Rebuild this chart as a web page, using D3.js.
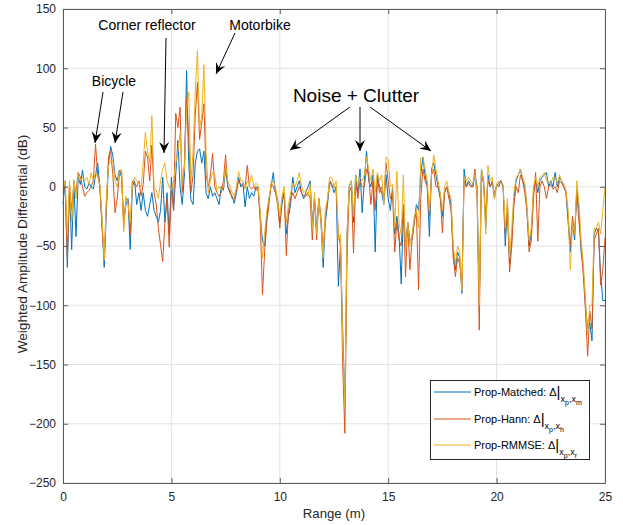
<!DOCTYPE html>
<html>
<head>
<meta charset="utf-8">
<script src="https://cdn.jsdelivr.net/npm/d3@7"></script>
<style>
  body { margin: 0; background: #fff; }
  text { font-family: "Liberation Sans", Arial, sans-serif; }
</style>
</head>
<body>
<svg id="chart" width="623" height="525"></svg>
<script>
'use strict';

// range samples, 0.1 m apart (0 .. 25 m)
var rangeStep = 0.1;

// Prop-Matched (blue)
var propMatched = [
  -15, 5, -68, 0, -53, 5, -42, 8, 2, 14,
  0, -2, 3, 0, -2, 10, 20, 0, -30, -68,
  -20, 20, 34, 26, 10, 5, 14, 8, -30, -15,
  -10, -53, 0, 5, -15, -5, -20, -5, -20, -25,
  -15, -5, -20, -25, -30, -20, 8, -30, -5, -40,
  8, -20, 10, 39, 0, -15, 10, 98, 20, -11,
  -15, 20, 30, 32, 20, 30, -5, -10, 0, -8,
  -5, -10, -15, 0, -3, 15, 0, -5, -8, -14,
  -5, 8, 0, 3, -17, 0, -10, -5, -8, 0,
  -2, -25, -45, -50, -25, -10, 0, 12, -5, -10,
  -31, -15, -5, -40, -25, -15, 8, -5, 0, 5,
  -5, -10, -5, 0, 5, -30, -10, -35, -10, -30,
  -68, -30, -15, 5, 2, -5, 0, -84, -50, -120,
  -186, -40, 0, 5, -30, 10, -5, 15, -22, 5,
  30, 5, 0, 10, -55, 10, 0, -5, -15, 10,
  -10, -20, 0, -40, -25, -40, -82, -20, -50, -30,
  -45, -45, -30, -15, -20, 10, 25, 10, 0, -42,
  15, 20, 10, 0, -10, -25, -5, 0, -5, -15,
  -55, -70, -55, -60, -90, 15, 0, 5, 2, 0,
  10, 0, -100, 15, 5, -35, 10, 0, 5, -10,
  2, 0, 5, 0, -50, -15, -65, -45, -10, 5,
  10, 15, 5, 0, -20, -50, -40, -5, 5, -5,
  5, 8, 10, 12, 0, 5, 0, 12, 0, 8,
  5, 0, -5, -30, -55, -30, -45, 0, -20, -55,
  -70, -100, -120, -115, -130, -40, -35, -38, -75, -96,
  -96
];

// Prop-Hann (red)
var propHann = [
  -5, 0, -60, 2, -20, 3, -5, 12, 8, 0,
  -8, -5, -3, 0, 5, 36, 10, 0, -35, -62,
  -15, 25, 30, 10, -22, -10, 10, 14, -35, -10,
  -12, -40, 5, 3, 0, 5, -8, 2, 30, 25,
  5, 35, -5, -15, -35, -49, -63, -30, -10, -51,
  0, -20, 62, 50, 67, -5, 20, 75, 40, -5,
  10, 60, 88, 40, 54, 70, 10, 0, 10, 28,
  0, -5, -8, -5, 5, 27, 0, -3, -10, -10,
  -3, 5, 2, 0, 0, 18, 0, -2, 0, -3,
  0, -30, -91, -55, -30, -15, 3, 0, -5, -15,
  -35, -10, -5, -58, -20, -10, -5, -10, -5, 0,
  -5, -8, -8, -5, -10, -45, -10, -45, -10, -25,
  -55, -25, -12, 5, 0, 0, -2, -40, -50, -150,
  -208, -60, -5, 0, -56, 5, -10, 5, 0, 0,
  15, 10, -15, 5, -20, 8, -5, 0, -10, 20,
  5, -10, -5, -55, -30, -45, -50, -15, -76, -30,
  -70, -45, -30, -20, -87, -10, 15, 5, 0, -25,
  10, 15, 0, 0, -5, -39, -5, 0, -10, -20,
  -60, -76, -60, -65, -85, 5, 0, 3, 0, 0,
  15, -10, -121, 10, 3, -25, 5, 0, 3, -5,
  0, 3, 5, 0, -40, -20, -72, -50, -15, 0,
  -5, 10, 5, -5, -20, -55, -45, -10, 12, -46,
  0, 5, 0, -10, 0, 2, -2, 0, -5, 5,
  3, 0, -5, -25, -50, -25, -40, -5, -30, -50,
  -75, -105, -143, -105, -120, -45, -40, -35, -83, -70,
  -43
];

// Prop-RMMSE (yellow)
var propRmmse = [
  -3, 5, -40, 5, -30, 6, -10, 10, 5, 8,
  5, 8, 2, 12, 5, 12, 8, 2, -25, -62,
  -10, 18, 22, 22, 5, 0, 12, 15, -38, -8,
  -15, -30, 2, 8, 5, 3, 0, 20, 46, 30,
  20, 60, 0, -3, -10, 5, 15, 20, 5, 0,
  -3, 5, 20, 30, 45, 5, 15, 65, 80, 5,
  30, 80, 115, 50, 60, 103, 30, -5, 5, 12,
  10, -3, 0, -3, 0, 18, 5, 0, -5, -8,
  0, 13, 5, 5, -2, 5, 2, 10, 0, 3,
  0, -20, -60, -40, -20, -10, 2, 5, 0, -12,
  -25, -8, 0, -30, -15, -5, 3, 0, 5, 12,
  0, -5, -3, -8, 2, -35, -5, -40, -10, -30,
  -60, -20, -10, 8, 8, 0, 5, -45, -40, -130,
  -186, -40, 0, 5, -25, 10, 0, 8, 5, 10,
  25, 15, 5, 15, -5, 12, 5, 10, -15, 25,
  23, 0, 2, -35, 13, -30, -40, 10, -55, -30,
  -50, -40, -25, -20, -35, 24, 25, 15, 5, -20,
  10, 27, 15, 5, -5, -20, 0, 5, -5, -10,
  -50, -65, -50, -55, -88, 8, 5, 8, 5, 3,
  10, -5, -100, 15, 5, -40, 18, 5, 8, -10,
  2, 5, 3, 2, -35, -10, -60, -35, -5, 8,
  10, 15, 8, 3, -15, -45, -35, 0, 8, 0,
  8, 10, 12, 5, 5, 3, 8, 8, 3, 10,
  5, 2, -3, -20, -70, -30, -40, 5, -15, -45,
  -65, -95, -125, -100, -100, -35, -35, -30, -40, -20,
  0
];

var seriesNames = ['Prop-Matched', 'Prop-Hann', 'Prop-RMMSE'];
var seriesSubs = ['m', 'h', 'r'];
var seriesColors = ['#0072BD', '#D95319', '#EDB120'];
var xTicks = [0, 5, 10, 15, 20, 25];
var yTicks = [-250, -200, -150, -100, -50, 0, 50, 100, 150];

var svg = d3.select('#chart');
var plotLeft = 63, plotRight = 605, plotTop = 9, plotBottom = 483;

var x = d3.scaleLinear().domain([0, 25]).range([plotLeft, plotRight]);
var y = d3.scaleLinear().domain([-250, 150]).range([plotBottom, plotTop]);

// grid
var grid = svg.append('g').attr('stroke', '#e3e3e3').attr('stroke-width', 1);
xTicks.forEach(function(t) {
  grid.append('line').attr('x1', x(t)).attr('x2', x(t)).attr('y1', plotTop).attr('y2', plotBottom);
});
yTicks.forEach(function(t) {
  grid.append('line').attr('x1', plotLeft).attr('x2', plotRight).attr('y1', y(t)).attr('y2', y(t));
});

// lines
var line = d3.line()
    .x(function(d, i) { return x(i * rangeStep); })
    .y(function(d) { return y(d); });

[propMatched, propHann, propRmmse].forEach(function(data, k) {
  svg.append('path')
      .datum(data)
      .attr('fill', 'none')
      .attr('stroke', seriesColors[k])
      .attr('stroke-width', 1)
      .attr('stroke-linejoin', 'round')
      .attr('d', line);
});

// axes (ticks point inward like matlab)
function styleAxis(g) {
  g.selectAll('.domain').attr('stroke', '#5a5a5a');
  g.selectAll('.tick line').attr('stroke', '#5a5a5a');
  g.selectAll('text').attr('fill', '#262626').style('font-size', '12px')
      .style('font-family', '"Liberation Sans", Arial, sans-serif');
}
svg.append('g').attr('transform', 'translate(0,' + plotBottom + ')')
    .call(d3.axisBottom(x).tickValues(xTicks).tickSizeInner(-5).tickSizeOuter(0).tickPadding(9))
    .call(styleAxis);
svg.append('g').attr('transform', 'translate(' + plotLeft + ',0)')
    .call(d3.axisLeft(y).tickValues(yTicks).tickSizeInner(-5).tickSizeOuter(0).tickPadding(7))
    .call(styleAxis);
svg.append('g').attr('transform', 'translate(0,' + plotTop + ')')
    .call(d3.axisTop(x).tickValues(xTicks).tickSizeInner(-5).tickSizeOuter(0).tickFormat(''))
    .call(styleAxis);
svg.append('g').attr('transform', 'translate(' + plotRight + ',0)')
    .call(d3.axisRight(y).tickValues(yTicks).tickSizeInner(-5).tickSizeOuter(0).tickFormat(''))
    .call(styleAxis);

// axis labels
svg.append('text')
    .attr('x', (plotLeft + plotRight) / 2).attr('y', 518)
    .attr('text-anchor', 'middle')
    .style('font-size', '13.2px').attr('fill', '#262626')
    .text('Range (m)');
svg.append('text')
    .attr('transform', 'translate(27,244) rotate(-90)')
    .attr('text-anchor', 'middle')
    .style('font-size', '13.6px').attr('fill', '#262626')
    .text('Weighted Amplitude Differential (dB)');

// annotations
svg.append('defs').append('marker')
    .attr('id', 'head')
    .attr('viewBox', '-12 -6 14 12')
    .attr('markerWidth', 14).attr('markerHeight', 12)
    .attr('markerUnits', 'userSpaceOnUse')
    .attr('refX', 0).attr('refY', 0)
    .attr('orient', 'auto')
    .append('path')
    .attr('d', 'M0,0 L-11,-5 L-7,0 L-11,5 Z')
    .attr('fill', '#000');

var notes = [
  {text: 'Bicycle', x: 114, y: 86, size: 14},
  {text: 'Corner reflector', x: 147, y: 30, size: 14},
  {text: 'Motorbike', x: 260, y: 30, size: 14},
  {text: 'Noise + Clutter', x: 356, y: 102, size: 19}
];
notes.forEach(function(n) {
  svg.append('text')
      .attr('x', n.x).attr('y', n.y)
      .attr('text-anchor', 'middle')
      .style('font-size', n.size + 'px')
      .attr('fill', '#000')
      .text(n.text);
});

var arrows = [
  [103, 92, 95, 143],
  [123, 92, 115, 143],
  [166, 38, 164, 153],
  [235, 33, 216, 74],
  [350, 107, 290, 150],
  [360, 107, 360, 151],
  [370, 107, 431, 151]
];
arrows.forEach(function(a) {
  svg.append('line')
      .attr('x1', a[0]).attr('y1', a[1]).attr('x2', a[2]).attr('y2', a[3])
      .attr('stroke', '#000').attr('stroke-width', 1)
      .attr('marker-end', 'url(#head)');
});

// legend
var legend = svg.append('g');
legend.append('rect')
    .attr('x', 430.5).attr('y', 380.5).attr('width', 159).attr('height', 79)
    .attr('fill', '#fff').attr('stroke', '#262626').attr('stroke-width', 1);
var rowY = [392, 419, 445];
seriesNames.forEach(function(name, k) {
  legend.append('line')
      .attr('x1', 434).attr('x2', 471).attr('y1', rowY[k]).attr('y2', rowY[k])
      .attr('stroke', seriesColors[k]).attr('stroke-width', 1);
  var t = legend.append('text')
      .attr('x', 474).attr('y', rowY[k] + 4)
      .style('font-size', '11px').attr('fill', '#000');
  t.append('tspan').text(name + ': \u0394');
  t.append('tspan').style('font-size', '15px').attr('dy', 1).text('|');
  t.append('tspan').style('font-size', '9px').attr('dy', 5).text('x');
  t.append('tspan').style('font-size', '7px').attr('dy', 3).text('p');
  t.append('tspan').style('font-size', '9px').attr('dy', -3).text(',x');
  t.append('tspan').style('font-size', '7px').attr('dy', 3).text(seriesSubs[k]);
});
</script>
</body>
</html>
